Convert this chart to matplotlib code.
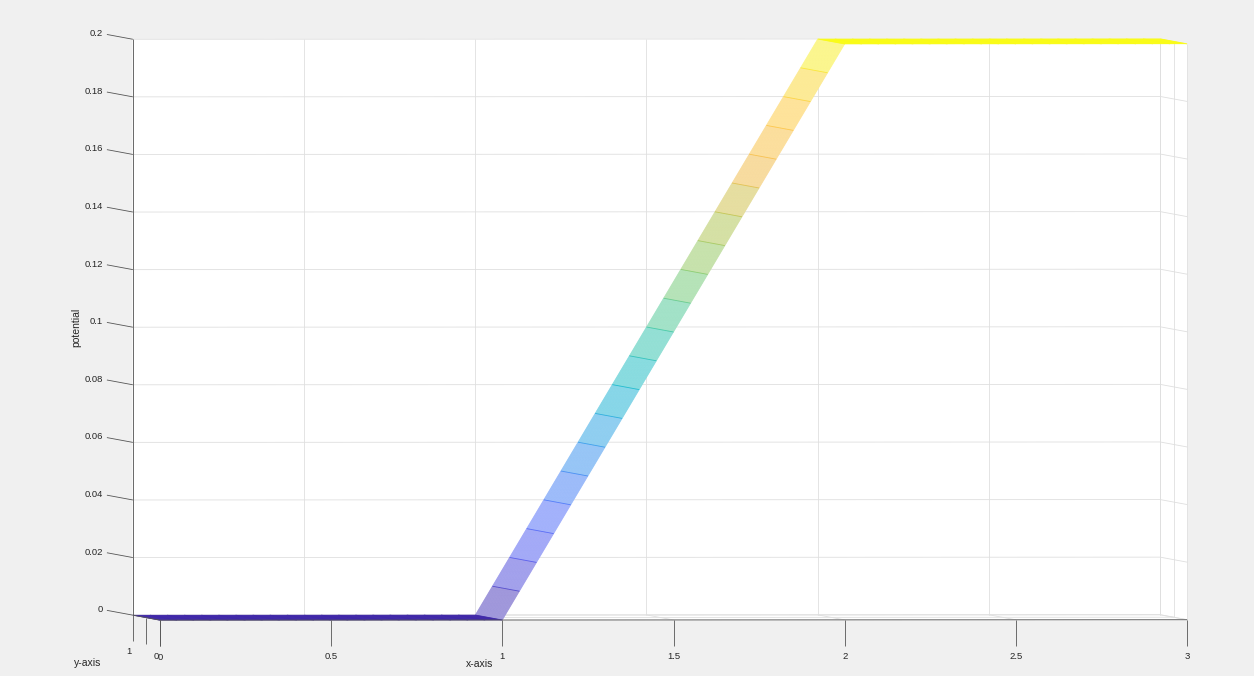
import numpy as np
import matplotlib
matplotlib.use("Agg")
import matplotlib.pyplot as plt
from matplotlib.colors import LinearSegmentedColormap
from mpl_toolkits.mplot3d import proj3d
from mpl_toolkits.mplot3d.art3d import Poly3DCollection, Line3DCollection

plt.rcParams["font.family"] = ["Liberation Sans", "DejaVu Sans"]

# ---- data -------------------------------------------------------------
# mesh nodes along x (step 0.05) and y (step 0.025)
x_nodes = np.linspace(0.0, 3.0, 61)
y_nodes = np.linspace(0.0, 1.0, 41)

# potential at each x node (same for every y)
potential = [
    0.00, 0.00, 0.00, 0.00, 0.00, 0.00, 0.00, 0.00, 0.00, 0.00,
    0.00, 0.00, 0.00, 0.00, 0.00, 0.00, 0.00, 0.00, 0.00, 0.00,
    0.00, 0.01, 0.02, 0.03, 0.04, 0.05, 0.06, 0.07, 0.08, 0.09,
    0.10, 0.11, 0.12, 0.13, 0.14, 0.15, 0.16, 0.17, 0.18, 0.19,
    0.20, 0.20, 0.20, 0.20, 0.20, 0.20, 0.20, 0.20, 0.20, 0.20,
    0.20, 0.20, 0.20, 0.20, 0.20, 0.20, 0.20, 0.20, 0.20, 0.20,
    0.20,
]

x_ticks = [0, 0.5, 1, 1.5, 2, 2.5, 3]
x_tick_labels = ["0", "0.5", "1", "1.5", "2", "2.5", "3"]
y_ticks = [0, 0.5, 1]
y_tick_labels = ["0", "", "1"]
z_ticks = [0, 0.02, 0.04, 0.06, 0.08, 0.10, 0.12, 0.14, 0.16, 0.18, 0.20]
z_tick_labels = ["0", "0.02", "0.04", "0.06", "0.08", "0.1",
                 "0.12", "0.14", "0.16", "0.18", "0.2"]

XMIN, XMAX = 0.0, 3.0
YMIN, YMAX = 0.0, 1.0
ZMIN, ZMAX = 0.0, 0.2

# parula-style colormap
parula_pos = [0.00, 0.10, 0.18, 0.30, 0.40, 0.50, 0.60, 0.70, 0.78, 0.86, 0.93, 1.00]
parula_rgb = [
    (0.2422, 0.1504, 0.6603), (0.2805, 0.2951, 0.9237),
    (0.2718, 0.4003, 0.9874), (0.1540, 0.5902, 0.9218),
    (0.0267, 0.7107, 0.7935), (0.1959, 0.7720, 0.6300),
    (0.4961, 0.7862, 0.3831), (0.7373, 0.7558, 0.2589),
    (0.9600, 0.7250, 0.2450), (0.9990, 0.7650, 0.2160),
    (0.9880, 0.8500, 0.1700), (0.9769, 0.9839, 0.0805),
]
parula = LinearSegmentedColormap.from_list("parula", list(zip(parula_pos, parula_rgb)))

# ---- figure -----------------------------------------------------------
W, H = 1254, 676
fig = plt.figure(figsize=(W / 100, H / 100), dpi=100, facecolor="#f0f0f0")
ax = fig.add_axes([0, 0, 1, 1], projection="3d", proj_type="ortho")
ax.computed_zorder = False
ax.set_facecolor("none")
ax.set_axis_off()

GRID = "#dfdfdf"
AXC = "#555555"
TXT = "#262626"
TICK_FS = 6.8
LABEL_FS = 7.5

# white back panes: back wall, floor, right wall
panes = [
    [(XMIN, YMAX, ZMIN), (XMAX, YMAX, ZMIN), (XMAX, YMAX, ZMAX), (XMIN, YMAX, ZMAX)],
    [(XMIN, YMIN, ZMIN), (XMAX, YMIN, ZMIN), (XMAX, YMAX, ZMIN), (XMIN, YMAX, ZMIN)],
    [(XMAX, YMIN, ZMIN), (XMAX, YMAX, ZMIN), (XMAX, YMAX, ZMAX), (XMAX, YMIN, ZMAX)],
]
ax.add_collection3d(Poly3DCollection(panes, facecolor="white", edgecolor="white",
                                     linewidth=0.5, zorder=0))

# grid lines on the panes
grid = []
for xt in x_ticks:
    grid.append([(xt, YMAX, ZMIN), (xt, YMAX, ZMAX)])
    grid.append([(xt, YMIN, ZMIN), (xt, YMAX, ZMIN)])
for zt in z_ticks:
    grid.append([(XMIN, YMAX, zt), (XMAX, YMAX, zt)])
    grid.append([(XMAX, YMIN, zt), (XMAX, YMAX, zt)])
for yt in y_ticks:
    grid.append([(XMIN, yt, ZMIN), (XMAX, yt, ZMIN)])
    grid.append([(XMAX, yt, ZMIN), (XMAX, yt, ZMAX)])
ax.add_collection3d(Line3DCollection(grid, colors=GRID, linewidths=0.6, zorder=1))

# mesh: opaque white faces with coloured edges
Z = np.asarray(potential)
n = len(x_nodes)
faces = [[(x_nodes[i], YMIN, Z[i]), (x_nodes[i + 1], YMIN, Z[i + 1]),
          (x_nodes[i + 1], YMAX, Z[i + 1]), (x_nodes[i], YMAX, Z[i])]
         for i in range(n - 1)]
ax.add_collection3d(Poly3DCollection(faces, facecolor="white", edgecolor="white",
                                     linewidth=0.3, zorder=2))


def cnorm(z):
    return (z - ZMIN) / (ZMAX - ZMIN)


segs, cols = [], []
for yv in y_nodes:
    for i in range(n - 1):
        segs.append([(x_nodes[i], yv, Z[i]), (x_nodes[i + 1], yv, Z[i + 1])])
        cols.append(parula(cnorm(0.5 * (Z[i] + Z[i + 1]))))
ax.add_collection3d(Line3DCollection(segs, colors=cols, linewidths=0.45,
                                     alpha=0.58, zorder=3))

# cross lines of the mesh (constant x)
xsegs = [[(xv, YMIN, Z[i]), (xv, YMAX, Z[i])] for i, xv in enumerate(x_nodes)]
xcols = [parula(cnorm(Z[i])) for i in range(n)]
ax.add_collection3d(Line3DCollection(xsegs, colors=xcols, linewidths=0.6,
                                     alpha=0.8, zorder=3))

# axis lines and tick marks
TICK_DZ = 0.009
axis_segs = [
    [(XMIN, YMIN, ZMIN), (XMAX, YMIN, ZMIN)],
    [(XMIN, YMIN, ZMIN), (XMIN, YMAX, ZMIN)],
    [(XMIN, YMAX, ZMIN), (XMIN, YMAX, ZMAX)],
]
for xt in x_ticks:
    axis_segs.append([(xt, YMIN, ZMIN), (xt, YMIN, ZMIN - TICK_DZ)])
for yt in y_ticks:
    axis_segs.append([(XMIN, yt, ZMIN), (XMIN, yt, ZMIN - TICK_DZ)])
for zt in z_ticks:
    axis_segs.append([(XMIN, YMAX, zt), (XMIN, YMAX + 0.96, zt)])
ax.add_collection3d(Line3DCollection(axis_segs, colors=AXC, linewidths=0.6, zorder=4))

ax.set_xlim(XMIN, XMAX)
ax.set_ylim(YMIN, YMAX)
ax.set_zlim(ZMIN, ZMAX)
ax.view_init(elev=0.5, azim=-92.7)
ax.set_box_aspect((1.0, 0.558, 0.560))

# place the box: back-top-left and front-bottom-right corners
fig.canvas.draw()


def to_px(pts):
    pts = np.asarray(pts, float)
    xs, ys, _ = proj3d.proj_transform(pts[:, 0], pts[:, 1], pts[:, 2], ax.get_proj())
    return ax.transData.transform(np.column_stack([xs, ys]))


corners = [(XMIN, YMAX, ZMAX), (XMAX, YMIN, ZMIN)]
targets = np.array([[133.0, H - 39.0], [1187.0, H - 620.0]])
P = to_px(corners)
bb = ax.get_position()
x0, y0 = bb.x0 * W, bb.y0 * H
w, h = bb.width * W, bb.height * H
dP, dT = P[1] - P[0], targets[1] - targets[0]
s = float(np.dot(dP, dT) / np.dot(dP, dP))
origin = np.mean(targets - s * (P - np.array([x0, y0])), axis=0)
ax.set_position([origin[0] / W, origin[1] / H, s * w / W, s * h / H])
fig.canvas.draw()


def label_at(pt, text, **kw):
    px, py = to_px([pt])[0]
    fig.text(px / W, py / H, text, fontsize=TICK_FS, color=TXT, **kw)


# tick labels, anchored at projected 3D positions
for xt, lab in zip(x_ticks, x_tick_labels):
    label_at((xt, YMIN, ZMIN - 0.0128), lab, ha="center", va="center")
for yt, lab in zip(y_ticks, y_tick_labels):
    if lab:
        label_at((XMIN, yt + 0.15, ZMIN - 0.0128), lab, ha="center", va="center")
for zt, lab in zip(z_ticks, z_tick_labels):
    label_at((XMIN, YMAX + 1.1, zt), lab, ha="right", va="center")

# axis titles
fig.text(480 / W, 1 - 664 / H, "x-axis", ha="center", va="center",
         fontsize=LABEL_FS, color=TXT)
fig.text(88 / W, 1 - 663.5 / H, "y-axis", ha="center", va="center",
         fontsize=LABEL_FS, color=TXT)
fig.text(76 / W, 1 - 327 / H, "potential", ha="center", va="center",
         rotation=90, fontsize=LABEL_FS, color=TXT)

fig.savefig("out.png", dpi=100, facecolor=fig.get_facecolor())
